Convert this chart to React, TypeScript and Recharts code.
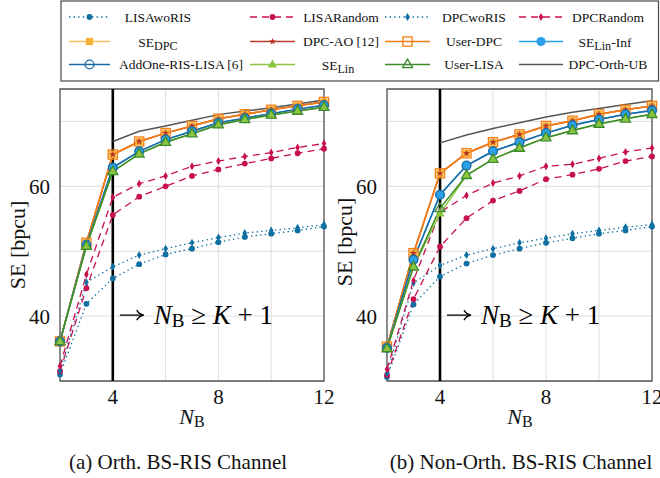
import React from "react";
import {
  CartesianGrid,
  Line,
  LineChart,
  ReferenceArea,
  ReferenceDot,
  ReferenceLine,
  XAxis,
  YAxis,
} from "recharts";

// x axis: number of BS antennas
const nB = [2, 3, 4, 5, 6, 7, 8, 9, 10, 11, 12];
const xTicks = [2, 4, 6, 8, 10, 12];
const xTickLabels = [4, 8, 12];
const yTicks = [40, 50, 60, 70];
const yTickLabels = [40, 60];

// (a) orthogonal BS-RIS channel
const lisaWoRisA = [31.0, 41.9, 45.8, 48.0, 49.5, 50.4, 51.4, 52.2, 52.7, 53.2, 53.8];
const lisaRandomA = [31.5, 44.3, 55.6, 58.4, 60.0, 61.6, 62.6, 63.5, 64.3, 65.1, 65.8];
const dpcWoRisA = [31.6, 45.2, 47.6, 49.4, 50.4, 51.3, 52.1, 52.8, 53.2, 53.6, 54.1];
const dpcRandomA = [32.3, 46.4, 58.3, 60.4, 61.6, 63.1, 63.9, 64.6, 65.2, 66.0, 66.6];
const dpcA = [36.1, 51.3, 64.9, 66.9, 68.2, 69.3, 70.4, 71.1, 71.8, 72.4, 73.0];
const linInfA = [36.1, 51.0, 62.9, 65.4, 67.2, 68.5, 69.8, 70.5, 71.2, 71.9, 72.5];
const linA = [36.1, 50.8, 62.3, 65.0, 66.8, 68.1, 69.5, 70.3, 71.0, 71.6, 72.2];
const orthUbA = [null, null, 66.9, 68.5, 69.3, 70.2, 71.05, 71.6, 72.1, 72.7, 73.3];

// (b) non-orthogonal BS-RIS channel
const lisaWoRisB = [30.6, 41.8, 46.1, 48.1, 49.4, 50.4, 51.3, 52.0, 52.7, 53.2, 53.8];
const lisaRandomB = [30.9, 42.6, 50.7, 55.1, 57.8, 59.3, 61.1, 61.8, 62.7, 63.9, 64.6];
const dpcWoRisB = [31.2, 45.1, 47.8, 49.4, 50.4, 51.3, 52.0, 52.7, 53.2, 53.7, 54.1];
const dpcRandomB = [31.8, 45.5, 56.0, 58.6, 60.5, 61.6, 63.1, 63.4, 64.3, 65.3, 65.9];
const dpcB = [35.3, 49.7, 62.0, 65.1, 66.8, 68.0, 69.3, 70.1, 71.1, 71.8, 72.4];
const linInfB = [35.1, 48.7, 58.7, 63.2, 65.4, 66.8, 68.2, 69.4, 70.3, 71.1, 71.7];
const linB = [35.0, 47.6, 55.8, 61.7, 64.2, 65.9, 67.5, 68.6, 69.6, 70.4, 71.1];
const userLisaB = [35.0, 47.6, 56.6, 61.7, 64.2, 65.9, 67.5, 68.6, 69.6, 70.4, 71.1];
const orthUbB = [null, null, 66.7, 67.9, 68.9, 69.8, 70.7, 71.4, 72.0, 72.6, 73.2];

type Marker =
  | "dot"
  | "diamond"
  | "squareFill"
  | "star"
  | "squareOpen"
  | "circleFill"
  | "circleOpen"
  | "triFill"
  | "triOpen"
  | "none";

interface Series {
  key: string;
  label: string;
  color: string;
  dash?: string;
  marker: Marker;
}

const BLUE = "#0e6fa3";
const CRIMSON = "#c8104e";

const SERIES: Series[] = [
  { key: "lisaWoRis", label: "LISAwoRIS", color: BLUE, dash: "1.4 3.2", marker: "dot" },
  { key: "lisaRandom", label: "LISARandom", color: CRIMSON, dash: "7 5", marker: "dot" },
  { key: "dpcWoRis", label: "DPCwoRIS", color: BLUE, dash: "1.4 3.2", marker: "diamond" },
  { key: "dpcRandom", label: "DPCRandom", color: CRIMSON, dash: "7 5", marker: "diamond" },
  { key: "seDpc", label: "SE_{DPC}", color: "#f9c060", marker: "squareFill" },
  { key: "dpcAo", label: "DPC-AO [12]", color: "#c0392b", marker: "star" },
  { key: "userDpc", label: "User-DPC", color: "#f57f12", marker: "squareOpen" },
  { key: "seLinInf", label: "SE_{Lin}-Inf", color: "#2b9fe8", marker: "circleFill" },
  { key: "addOne", label: "AddOne-RIS-LISA [6]", color: "#1b6aa3", marker: "circleOpen" },
  { key: "seLin", label: "SE_{Lin}", color: "#8cc640", marker: "triFill" },
  { key: "userLisa", label: "User-LISA", color: "#3c8c2c", marker: "triOpen" },
  { key: "orthUb", label: "DPC-Orth-UB", color: "#555555", marker: "none" },
];

function buildRows(cols: Record<string, (number | null)[]>) {
  return nB.map((n, i) => {
    const row: Record<string, number | null> = { n };
    for (const k of Object.keys(cols)) row[k] = cols[k][i];
    return row;
  });
}

const rowsA = buildRows({
  lisaWoRis: lisaWoRisA,
  lisaRandom: lisaRandomA,
  dpcWoRis: dpcWoRisA,
  dpcRandom: dpcRandomA,
  seDpc: dpcA,
  dpcAo: dpcA,
  userDpc: dpcA,
  seLinInf: linInfA,
  addOne: linInfA,
  seLin: linA,
  userLisa: linA,
  orthUb: orthUbA,
});

const rowsB = buildRows({
  lisaWoRis: lisaWoRisB,
  lisaRandom: lisaRandomB,
  dpcWoRis: dpcWoRisB,
  dpcRandom: dpcRandomB,
  seDpc: dpcB,
  dpcAo: dpcB,
  userDpc: dpcB,
  seLinInf: linInfB,
  addOne: linInfB,
  seLin: linB,
  userLisa: userLisaB,
  orthUb: orthUbB,
});

const SERIF = "'Liberation Serif', 'Times New Roman', serif";

function drawMarker(kind: Marker, color: string, cx: number, cy: number, key: string | number) {
  switch (kind) {
    case "dot":
      return <circle key={key} cx={cx} cy={cy} r={2.9} fill={color} />;
    case "diamond":
      return (
        <polygon
          key={key}
          points={`${cx},${cy - 4} ${cx + 2.3},${cy} ${cx},${cy + 4} ${cx - 2.3},${cy}`}
          fill={color}
        />
      );
    case "squareFill":
      return <rect key={key} x={cx - 3.6} y={cy - 3.6} width={7.2} height={7.2} fill="#f7b032" />;
    case "star": {
      const pts: string[] = [];
      for (let i = 0; i < 10; i++) {
        const r = i % 2 === 0 ? 3.6 : 1.5;
        const a = -Math.PI / 2 + (i * Math.PI) / 5;
        pts.push(`${cx + r * Math.cos(a)},${cy + r * Math.sin(a)}`);
      }
      return <polygon key={key} points={pts.join(" ")} fill="#b8322a" />;
    }
    case "squareOpen":
      return (
        <rect
          key={key}
          x={cx - 4.6}
          y={cy - 4.6}
          width={9.2}
          height={9.2}
          fill="none"
          stroke={color}
          strokeWidth={1.3}
        />
      );
    case "circleFill":
      return <circle key={key} cx={cx} cy={cy} r={4.6} fill={color} />;
    case "circleOpen":
      return <circle key={key} cx={cx} cy={cy} r={4.4} fill="none" stroke={color} strokeWidth={1.3} />;
    case "triFill":
      return (
        <polygon
          key={key}
          points={`${cx},${cy - 5} ${cx + 4.6},${cy + 3} ${cx - 4.6},${cy + 3}`}
          fill={color}
        />
      );
    case "triOpen":
      return (
        <polygon
          key={key}
          points={`${cx},${cy - 5.4} ${cx + 5},${cy + 3.2} ${cx - 5},${cy + 3.2}`}
          fill="none"
          stroke={color}
          strokeWidth={1.3}
        />
      );
    default:
      return <g key={key} />;
  }
}

function makeDot(s: Series) {
  if (s.marker === "none") return false;
  return (p: any) => {
    const k = `${s.key}-${p.index}`;
    if (p.cx == null || p.cy == null || p.value == null) return <g key={k} />;
    return drawMarker(s.marker, s.color, p.cx, p.cy, k);
  };
}

// "SE_{DPC}" -> SE with subscript DPC
function RichText({
  text,
  x,
  y,
  size,
  anchor = "middle",
}: {
  text: string;
  x: number;
  y: number;
  size: number;
  anchor?: "start" | "middle" | "end";
}) {
  const m = text.match(/^(.*?)_\{(.*?)\}(.*)$/);
  const common = {
    x,
    y,
    fontSize: size,
    fontFamily: SERIF,
    textAnchor: anchor,
    dominantBaseline: "central" as const,
    fill: "#111",
  };
  if (!m) return <text {...common}>{text}</text>;
  return (
    <text {...common}>
      <tspan>{m[1]}</tspan>
      <tspan fontSize={size * 0.9} dy={size * 0.32}>
        {m[2]}
      </tspan>
      {m[3] ? <tspan dy={-size * 0.32}>{m[3]}</tspan> : null}
    </text>
  );
}

// "→ N_B ≥ K + 1" placed just right of the N_B = 4 line, at SE = 40
function BoundLabel(props: any) {
  const vb = props.viewBox || {};
  const x = (vb.x ?? 0) + 7;
  const y = (vb.y ?? 0) - 1;
  return (
    <g>
      <line x1={x} x2={x + 22} y1={y} y2={y} stroke="#000" strokeWidth={1.3} />
      <path
        d={`M ${x + 17} ${y - 5} Q ${x + 19} ${y - 1} ${x + 24} ${y} Q ${x + 19} ${y + 1} ${x + 17} ${y + 5}`}
        fill="none"
        stroke="#000"
        strokeWidth={1.3}
      />
      <text x={x + 34} y={y} fontSize={27} fontFamily={SERIF} dominantBaseline="central" fill="#000">
        <tspan fontStyle="italic">N</tspan>
        <tspan fontSize={19} dy={5}>
          B
        </tspan>
        <tspan dy={-5}> ≥ </tspan>
        <tspan fontStyle="italic">K</tspan>
        <tspan> + 1</tspan>
      </text>
    </g>
  );
}

function Panel({
  rows,
  yAxisWidth,
  width,
  rightMargin,
}: {
  rows: Record<string, number | null>[];
  yAxisWidth: number;
  width: number;
  rightMargin: number;
}) {
  const tickStyle = { fontSize: 21, fontFamily: SERIF, fill: "#111" };
  return (
    <LineChart
      width={width}
      height={420}
      data={rows}
      margin={{ top: 89, right: rightMargin, bottom: 0, left: 0 }}
    >
      <CartesianGrid stroke="#dedede" strokeWidth={1} />
      <XAxis
        dataKey="n"
        type="number"
        domain={[2, 12]}
        ticks={xTicks}
        tickFormatter={(v: number) => (xTickLabels.includes(v) ? String(v) : "")}
        axisLine={false}
        tickLine={false}
        tickSize={0}
        tickMargin={8}
        height={39}
        tick={tickStyle}
        interval={0}
      />
      <YAxis
        type="number"
        domain={[30, 75]}
        ticks={yTicks}
        tickFormatter={(v: number) => (yTickLabels.includes(v) ? String(v) : "")}
        axisLine={false}
        tickLine={false}
        tickSize={0}
        tickMargin={10}
        width={yAxisWidth}
        tick={tickStyle}
        interval={0}
      />
      <ReferenceLine x={4} stroke="#000" strokeWidth={2.6} />
      {SERIES.map((s) => (
        <Line
          key={s.key}
          dataKey={s.key}
          type="linear"
          stroke={s.color}
          strokeWidth={s.dash ? 1.3 : 1.5}
          strokeDasharray={s.dash}
          dot={makeDot(s)}
          activeDot={false}
          isAnimationActive={false}
        />
      ))}
      <ReferenceArea x1={2} x2={12} y1={30} y2={75} fill="none" stroke="#555" strokeWidth={1.3} />
      <ReferenceDot
        x={4}
        y={40}
        r={0}
        fill="none"
        stroke="none"
        label={(p: any) => <BoundLabel {...p} />}
      />
    </LineChart>
  );
}

const LEGEND_ROW_Y = [17, 41.5, 64.5];
const LEGEND_LINE_X = [
  [69, 110],
  [250, 295],
  [385, 430],
  [519, 563],
];
const LEGEND_TEXT_X = [158, 341, 474, 608, 158, 341, 474, 605, 181, 338, 474, 608];

function Overlay() {
  return (
    <svg
      width={660}
      height={478}
      style={{ position: "absolute", left: 0, top: 0, pointerEvents: "none" }}
    >
      <rect x={61} y={1} width={597.5} height={80} fill="#fff" stroke="#444" strokeWidth={1.2} />
      {SERIES.map((s, i) => {
        const row = Math.floor(i / 4);
        const col = i % 4;
        const y = LEGEND_ROW_Y[row];
        const [x1, x2] = LEGEND_LINE_X[col];
        return (
          <g key={s.key}>
            <line
              x1={x1}
              x2={x2}
              y1={y}
              y2={y}
              stroke={s.color}
              strokeWidth={s.dash ? 1.3 : 1.5}
              strokeDasharray={s.dash}
            />
            {drawMarker(s.marker, s.color, (x1 + x2) / 2, y, "m")}
            <RichText text={s.label} x={LEGEND_TEXT_X[i]} y={y} size={13.5} />
          </g>
        );
      })}

      {[
        { x: 17, y: 245 },
        { x: 344, y: 242 },
      ].map((p, i) => (
        <text
          key={`yl${i}`}
          x={p.x}
          y={p.y}
          transform={`rotate(-90 ${p.x} ${p.y})`}
          fontSize={22}
          fontFamily={SERIF}
          textAnchor="middle"
          dominantBaseline="central"
          fill="#111"
        >
          SE [bpcu]
        </text>
      ))}

      {[192, 520].map((x, i) => (
        <text
          key={`xl${i}`}
          x={x}
          y={416}
          fontSize={22}
          fontFamily={SERIF}
          textAnchor="middle"
          dominantBaseline="central"
          fill="#111"
        >
          <tspan fontStyle="italic">N</tspan>
          <tspan fontSize={16} dy={5}>
            B
          </tspan>
        </text>
      ))}

      <text x={178} y={462} fontSize={21} fontFamily={SERIF} textAnchor="middle" dominantBaseline="central" fill="#111">
        (a) Orth. BS-RIS Channel
      </text>
      <text x={521} y={462} fontSize={21} fontFamily={SERIF} textAnchor="middle" dominantBaseline="central" fill="#111">
        (b) Non-Orth. BS-RIS Channel
      </text>
    </svg>
  );
}

export default function App() {
  return (
    <div
      style={{
        position: "absolute",
        left: 0,
        top: 0,
        width: 660,
        height: 478,
        background: "#fff",
        overflow: "hidden",
      }}
    >
      <div style={{ position: "absolute", left: 0, top: 0 }}>
        <Panel rows={rowsA} yAxisWidth={60} width={345} rightMargin={21} />
      </div>
      <div style={{ position: "absolute", left: 330, top: 0 }}>
        <Panel rows={rowsB} yAxisWidth={57} width={345} rightMargin={23} />
      </div>
      <Overlay />
    </div>
  );
}
